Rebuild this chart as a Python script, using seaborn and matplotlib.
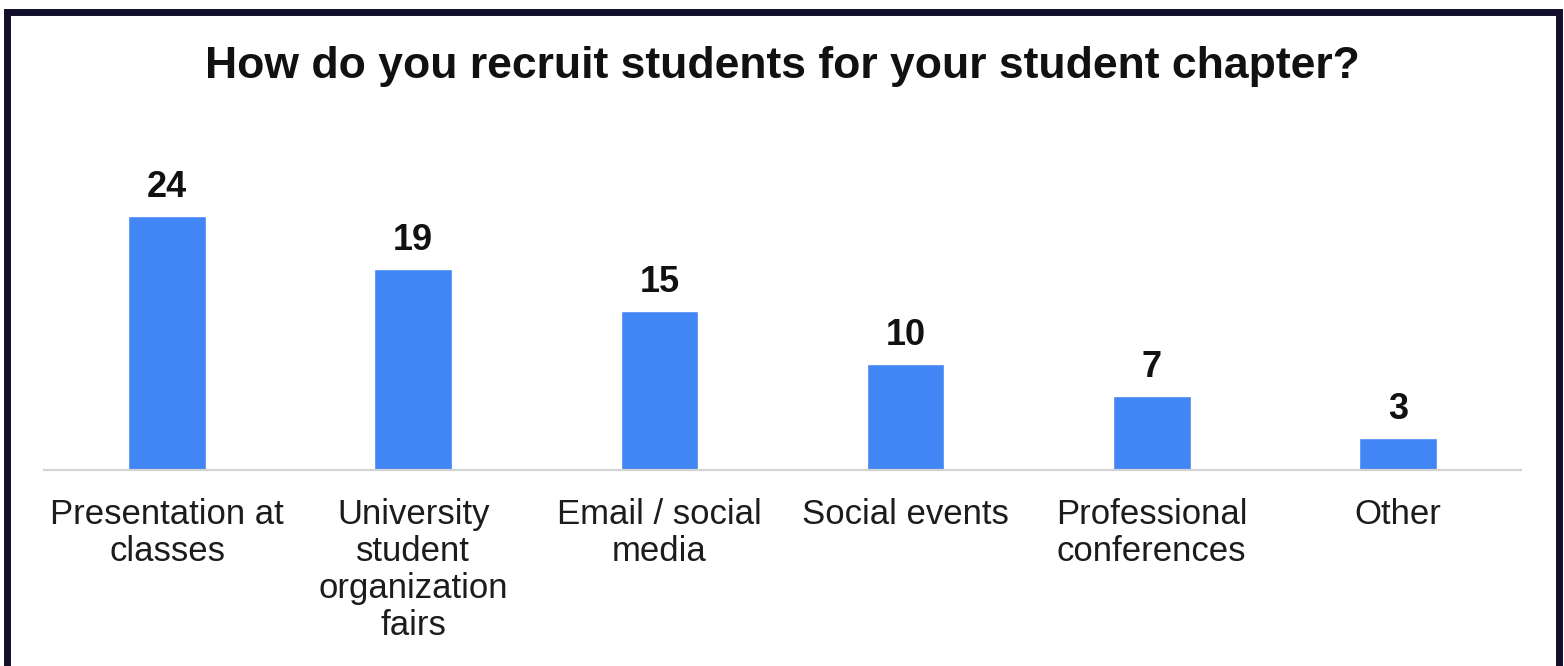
import matplotlib
matplotlib.use("Agg")
import matplotlib.pyplot as plt
from matplotlib.lines import Line2D
import seaborn as sns
import pandas as pd

# Survey results: recruitment channels for student chapters
categories = [
    "Presentation at\nclasses",
    "University\nstudent\norganization\nfairs",
    "Email / social\nmedia",
    "Social events",
    "Professional\nconferences",
    "Other",
]
counts = [24, 19, 15, 10, 7, 3]
title = "How do you recruit students for your student chapter?"

sns.set_theme(style="white")
plt.rcParams["font.family"] = ["Liberation Sans", "DejaVu Sans"]

W, H = 1564, 666
fig = plt.figure(figsize=(W / 100, H / 100), dpi=100)
fig.patch.set_facecolor("white")

# Axes placement in figure pixels: x from 44 to 1521, baseline at y=470
left_px, right_px, base_px = 44, 1521, 470
ymax = 30
unit_px = 10.58
top_px = base_px - ymax * unit_px
ax = fig.add_axes([left_px / W, (H - base_px) / H,
                   (right_px - left_px) / W, (base_px - top_px) / H])

df = pd.DataFrame({"category": categories, "count": counts})
sns.barplot(data=df, x="category", y="count", color="#4285F4",
            width=0.315, saturation=1, ax=ax)

ax.set_xlim(-0.5, len(categories) - 0.5)
ax.set_ylim(0, ymax)
ax.set_xlabel("")
ax.set_ylabel("")
ax.set_yticks([])
for side in ["top", "right", "left"]:
    ax.spines[side].set_visible(False)
ax.spines["bottom"].set_color("#d3d3d3")
ax.spines["bottom"].set_linewidth(1.6)
ax.tick_params(axis="x", length=0, pad=20, labelsize=25, labelcolor="#1c1c1c")
for lbl in ax.get_xticklabels():
    lbl.set_linespacing(1.16)

# Value labels above each bar
for container in ax.containers:
    ax.bar_label(container, labels=[str(v) for v in counts], padding=8,
                 fontsize=26, fontweight="bold", color="#111111")

fig.text(0.5, 1 - 78 / H, title, ha="center", va="baseline",
         fontsize=32, fontweight="bold", color="#111111")

# Dark frame around the chart (left, top and right edges)
frame = Line2D([6.5 / W, 6.5 / W, 1558.5 / W, 1558.5 / W],
               [-0.05, 1 - 11.5 / H, 1 - 11.5 / H, -0.05],
               transform=fig.transFigure, color="#120f2c", linewidth=5.0,
               solid_joinstyle="miter")
fig.add_artist(frame)

fig.savefig("out.png", dpi=100, facecolor="white")
